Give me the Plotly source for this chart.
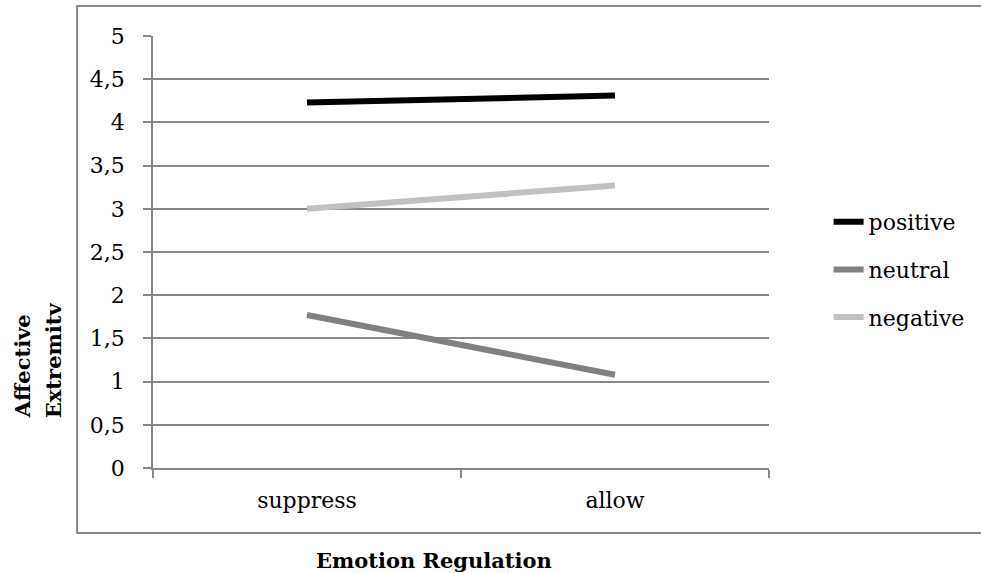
import plotly.graph_objects as go

categories = ["suppress", "allow"]
positive = [4.23, 4.31]
neutral = [1.77, 1.08]
negative = [3.00, 3.27]
y_ticks = [0, 0.5, 1, 1.5, 2, 2.5, 3, 3.5, 4, 4.5, 5]

FONT = "DejaVu Serif"
GRID = "#878787"

fig = go.Figure()
for name, vals, col in [("positive", positive, "#000000"),
                        ("neutral", neutral, "#808080"),
                        ("negative", negative, "#c0c0c0")]:
    fig.add_trace(go.Scatter(x=categories, y=vals, name=name, mode="lines",
                             line=dict(color=col, width=6), legendgroup=name))

fig.update_layout(
    width=981, height=573,
    margin=dict(l=153, r=211, t=36, b=105),
    paper_bgcolor="white", plot_bgcolor="white",
    separators=",.",
    font=dict(family=FONT, size=22, color="black"),
    showlegend=True,
    legend=dict(x=1.095, y=0.618, xanchor="left", yanchor="top",
                font=dict(family=FONT, size=22, color="black"),
                tracegroupgap=16, bgcolor="rgba(0,0,0,0)", itemclick=False),
    xaxis=dict(type="category", range=[-0.5, 1.5], showgrid=False,
               showline=True, linecolor=GRID, linewidth=1.5,
               ticks="outside", tickson="boundaries", ticklen=8, tickcolor=GRID,
               tickwidth=1.5, ticklabelstandoff=12,
               tickfont=dict(family=FONT, size=22, color="black")),
    yaxis=dict(range=[0, 5], tickvals=y_ticks, showgrid=True, gridcolor=GRID,
               gridwidth=1.5, showline=True, linecolor=GRID, linewidth=1.5,
               ticks="outside", ticklen=8, tickcolor=GRID, tickwidth=1.5,
               ticklabelstandoff=14, zeroline=False,
               tickfont=dict(family=FONT, size=22, color="black")),
)

# outer chart-area border (right edge lies outside the picture)
fig.add_shape(type="rect", xref="paper", yref="paper",
              x0=(77 - 153) / 617, x1=(1020 - 153) / 617,
              y0=(468 - 533) / 432, y1=(468 - 6) / 432,
              line=dict(color=GRID, width=2), fillcolor="rgba(0,0,0,0)", layer="below")

# axis titles
fig.add_annotation(text="<b>Affective</b>", xref="paper", yref="paper",
                   x=(22 - 153) / 617, y=(468 - 420) / 432, xanchor="center", yanchor="bottom",
                   textangle=-90, showarrow=False, font=dict(family=FONT, size=21, color="black"))
fig.add_annotation(text="<b>Extremitv</b>", xref="paper", yref="paper",
                   x=(53 - 153) / 617, y=(468 - 420) / 432, xanchor="center", yanchor="bottom",
                   textangle=-90, showarrow=False, font=dict(family=FONT, size=21, color="black"))
fig.add_annotation(text="<b>Emotion Regulation</b>", xref="paper", yref="paper",
                   x=(434 - 153) / 617, y=(468 - 560) / 432, xanchor="center", yanchor="middle",
                   showarrow=False, font=dict(family=FONT, size=21, color="black"))

fig.write_html("out.html")
